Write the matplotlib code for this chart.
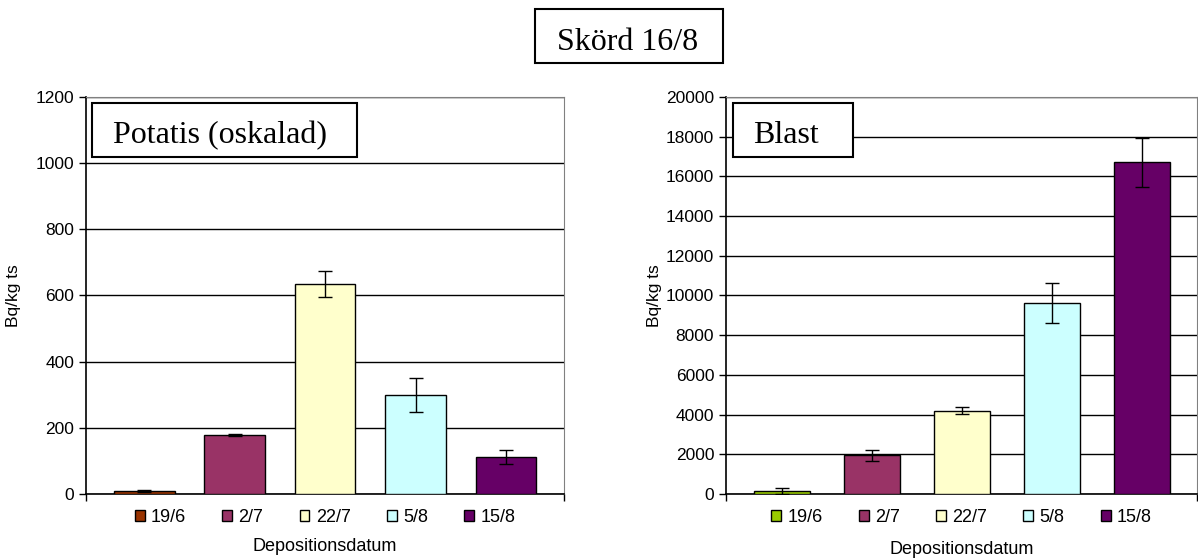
import matplotlib as mpl
mpl.use('Agg')
import matplotlib.pyplot as plt
from matplotlib.patches import Patch, Rectangle

plt.rcParams['font.family'] = ['Liberation Sans', 'DejaVu Sans']

# data
dates = ['19/6', '2/7', '22/7', '5/8', '15/8']
potatis = [9, 178, 635, 300, 112]
potatis_err = [4, 2, 40, 51, 21]
blast = [150, 1950, 4200, 9620, 16700]
blast_err = [130, 270, 170, 1030, 1250]

colors_pot = ['#993300', '#993366', '#FFFFCC', '#CCFFFF', '#660066']
colors_bl = ['#99CC00', '#993366', '#FFFFCC', '#CCFFFF', '#660066']

fig = plt.figure(figsize=(11.98, 5.58), dpi=100)


def panel(rect, vals, errs, cols, ymax, ystep, xlim, width, leg_y, xlab_y):
    ax = fig.add_axes(rect)
    x = list(range(len(vals)))
    ax.bar(x, vals, width=width, color=cols, edgecolor='black', linewidth=1, zorder=3)
    ax.errorbar(x, vals, yerr=errs, fmt='none', ecolor='black', elinewidth=1,
                capsize=5, capthick=1, zorder=4)
    ax.set_ylim(0, ymax)
    ax.set_xlim(*xlim)
    ax.set_yticks(range(0, ymax + 1, ystep))
    ax.yaxis.grid(True, color='black', linewidth=1)
    ax.set_axisbelow(True)
    ax.set_xticks(xlim)
    ax.set_xticklabels(['', ''])
    ax.tick_params(axis='both', direction='out', length=5, width=1, labelsize=12.5, color='black')
    ax.spines['top'].set_color('#808080')
    ax.spines['right'].set_color('#808080')
    ax.spines['left'].set_linewidth(1.2)
    ax.spines['bottom'].set_linewidth(1.2)
    ax.set_ylabel('Bq/kg ts', fontsize=12.5)
    ax.yaxis.set_label_coords(-0.135, 0.5)
    ax.set_xlabel('Depositionsdatum', fontsize=13)
    ax.xaxis.set_label_coords(0.5, xlab_y)
    handles = [Patch(facecolor=c, edgecolor='black', linewidth=1) for c in cols]
    ax.legend(handles, dates, loc='center', bbox_to_anchor=(0.5, leg_y), ncol=5,
              frameon=False, fontsize=13, handlelength=0.55, handleheight=0.55,
              handletextpad=0.35, columnspacing=2.0, borderaxespad=0)
    return ax


panel([0.0718, 0.1147, 0.399, 0.7115], potatis, potatis_err, colors_pot,
      1200, 200, (-0.645, 4.643), 0.67, -0.058, -0.110)
panel([0.606, 0.1147, 0.3932, 0.7115], blast, blast_err, colors_bl,
      20000, 2000, (-0.62, 4.61), 0.62, -0.058, -0.118)

# title boxes
serif = ['Liberation Serif', 'DejaVu Serif']
boxes = [
    (0.0768, 0.7186, 0.2212, 0.0968, 0.0943, 0.7437, 'Potatis (oskalad)'),
    (0.6119, 0.7186, 0.1002, 0.0968, 0.6285, 0.7437, 'Blast'),
    (0.4466, 0.8871, 0.1569, 0.0968, 0.465, 0.9104, 'Skörd 16/8'),
]
for x0, y0, w, h, tx, ty, s in boxes:
    fig.add_artist(Rectangle((x0, y0), w, h, transform=fig.transFigure,
                             facecolor='white', edgecolor='black', linewidth=1.5, zorder=5))
    fig.text(tx, ty, s, family=serif, fontsize=23, ha='left', va='baseline', zorder=6)

plt.savefig('out.png', dpi=100)
plt.close()
